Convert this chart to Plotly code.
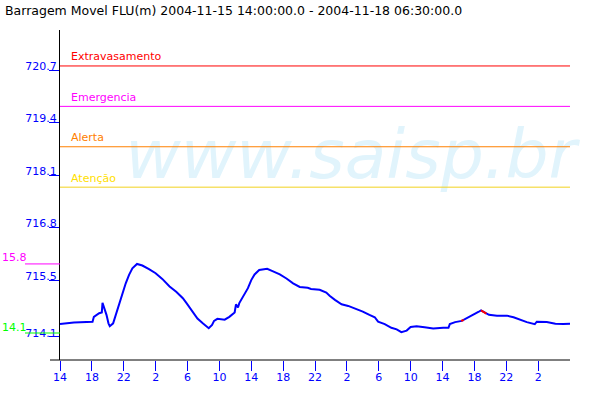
import plotly.graph_objects as go

# ---- data ----
times = [
    "2004-11-15 14:00", "2004-11-15 15:45", "2004-11-15 18:05", "2004-11-15 18:15",
    "2004-11-15 18:55", "2004-11-15 19:15", "2004-11-15 19:20", "2004-11-15 19:30",
    "2004-11-15 19:50", "2004-11-15 20:05", "2004-11-15 20:15", "2004-11-15 20:40",
    "2004-11-15 21:00", "2004-11-15 21:25", "2004-11-15 21:50", "2004-11-15 22:15",
    "2004-11-15 22:40", "2004-11-15 23:05", "2004-11-15 23:40", "2004-11-16 00:20",
    "2004-11-16 01:10", "2004-11-16 02:00", "2004-11-16 02:50", "2004-11-16 03:45",
    "2004-11-16 04:35", "2004-11-16 05:25", "2004-11-16 05:50", "2004-11-16 06:40",
    "2004-11-16 07:15", "2004-11-16 07:55", "2004-11-16 08:40", "2004-11-16 09:05",
    "2004-11-16 09:20", "2004-11-16 09:45", "2004-11-16 10:40", "2004-11-16 11:15",
    "2004-11-16 11:55", "2004-11-16 12:05", "2004-11-16 12:20", "2004-11-16 12:30",
    "2004-11-16 12:55", "2004-11-16 13:35", "2004-11-16 14:00", "2004-11-16 14:25",
    "2004-11-16 15:00", "2004-11-16 15:40", "2004-11-16 16:00", "2004-11-16 16:40",
    "2004-11-16 17:35", "2004-11-16 18:25", "2004-11-16 19:15", "2004-11-16 20:05",
    "2004-11-16 21:05", "2004-11-16 21:30", "2004-11-16 22:35", "2004-11-16 23:25",
    "2004-11-16 23:50", "2004-11-17 00:30", "2004-11-17 01:20", "2004-11-17 02:10",
    "2004-11-17 03:00", "2004-11-17 04:00", "2004-11-17 04:50", "2004-11-17 05:30",
    "2004-11-17 05:55", "2004-11-17 06:45", "2004-11-17 07:35", "2004-11-17 08:15",
    "2004-11-17 08:50", "2004-11-17 09:30", "2004-11-17 10:00", "2004-11-17 10:45",
    "2004-11-17 11:45", "2004-11-17 12:50", "2004-11-17 14:05", "2004-11-17 14:45",
    "2004-11-17 14:55", "2004-11-17 15:35", "2004-11-17 16:25", "2004-11-17 17:15",
    "2004-11-17 17:50", "2004-11-17 18:30", "2004-11-17 18:50", "2004-11-17 19:20",
    "2004-11-17 19:50", "2004-11-17 20:50", "2004-11-17 22:05", "2004-11-17 22:55",
    "2004-11-17 23:45", "2004-11-18 00:35", "2004-11-18 01:35", "2004-11-18 01:50",
    "2004-11-18 03:05", "2004-11-18 04:10", "2004-11-18 05:10", "2004-11-18 06:00",
]
levels = [
    714.41, 714.45, 714.47, 714.59, 714.68, 714.70, 714.94, 714.84,
    714.64, 714.43, 714.36, 714.43, 714.64, 714.88, 715.17, 715.42,
    715.63, 715.79, 715.90, 715.86, 715.77, 715.67, 715.53, 715.34,
    715.21, 715.05, 714.94, 714.72, 714.55, 714.43, 714.31, 714.39,
    714.49, 714.54, 714.52, 714.59, 714.70, 714.90, 714.82, 714.93,
    715.06, 715.30, 715.50, 715.64, 715.75, 715.78, 715.78, 715.72,
    715.64, 715.54, 715.42, 715.33, 715.31, 715.28, 715.26, 715.19,
    715.11, 715.01, 714.90, 714.86, 714.80, 714.72, 714.64, 714.58,
    714.47, 714.41, 714.32, 714.28, 714.21, 714.25, 714.34, 714.36,
    714.33, 714.30, 714.32, 714.32, 714.41, 714.46, 714.49, 714.57,
    714.64, 714.71, 714.75, 714.69, 714.64, 714.62, 714.62, 714.58,
    714.51, 714.46, 714.41, 714.47, 714.46, 714.42, 714.41, 714.42,
]
# short stretches drawn in red
red_times = ["2004-11-17 16:20", "2004-11-17 16:40", None, "2004-11-17 18:50", "2004-11-17 19:30"]
red_levels = [714.49, 714.51, None, 714.75, 714.67]

threshold_names = ["Extravasamento", "Emergencia", "Alerta", "Atenção"]
threshold_values = [720.8, 719.8, 718.8, 717.8]
threshold_colors = ["#FF0000", "#FF00FF", "#FF8000", "#F2D21E"]
threshold_text_colors = ["#FF0000", "#FF00FF", "#FF8000", "#FFE000"]

max_label, max_value = "15.8", 715.9
min_label, min_value = "14.1", 714.19

ytick_values = [714.1, 715.5, 716.8, 718.1, 719.4, 720.7]
ytick_labels = ["714.1", "715.5", "716.8", "718.1", "719.4", "720.7"]

xtick_values = [
    "2004-11-15 14:00", "2004-11-15 18:00", "2004-11-15 22:00", "2004-11-16 02:00",
    "2004-11-16 06:00", "2004-11-16 10:00", "2004-11-16 14:00", "2004-11-16 18:00",
    "2004-11-16 22:00", "2004-11-17 02:00", "2004-11-17 06:00", "2004-11-17 10:00",
    "2004-11-17 14:00", "2004-11-17 18:00", "2004-11-17 22:00", "2004-11-18 02:00",
]
xtick_labels = ["14", "18", "22", "2", "6", "10", "14", "18", "22", "2", "6", "10", "14", "18", "22", "2"]

x_start, x_end = "2004-11-15 14:00", "2004-11-18 06:00"
title_text = "Barragem Movel FLU(m) 2004-11-15 14:00:00.0 - 2004-11-18 06:30:00.0"
watermark = "www.saisp.br"

FONT = "DejaVu Sans"
BLUE = "#0000FF"

fig = go.Figure()

# watermark behind everything
fig.add_trace(go.Scatter(
    x=["2004-11-17 02:30"], y=[718.45], mode="text", text=[watermark],
    textposition="middle center", cliponaxis=False,
    textfont=dict(family=FONT, size=68, color="#E1F4FC", style="italic"),
    hoverinfo="skip", showlegend=False,
))

for name, val, col in zip(threshold_names, threshold_values, threshold_colors):
    fig.add_trace(go.Scatter(
        x=[x_start, x_end], y=[val, val], mode="lines",
        line=dict(color=col, width=1), hoverinfo="skip", showlegend=False,
    ))

fig.add_trace(go.Scatter(
    x=times, y=levels, mode="lines", line=dict(color=BLUE, width=2),
    showlegend=False,
))
fig.add_trace(go.Scatter(
    x=red_times, y=red_levels, mode="lines", line=dict(color="#FF0000", width=2),
    connectgaps=False, showlegend=False,
))

annotations = []
for name, val, col in zip(threshold_names, threshold_values, threshold_text_colors):
    annotations.append(dict(
        x=0, xref="paper", y=val, yref="y", text=name, showarrow=False,
        xanchor="left", yanchor="middle", xshift=9, yshift=9,
        font=dict(family=FONT, size=11, color=col),
    ))
annotations.append(dict(
    x=-60 / 510, xref="paper", y=max_value, yref="y", text=max_label, showarrow=False,
    xanchor="left", yanchor="middle", yshift=6,
    font=dict(family=FONT, size=11, color="#FF00FF"),
))
annotations.append(dict(
    x=-60 / 510, xref="paper", y=min_value, yref="y", text=min_label, showarrow=False,
    xanchor="left", yanchor="middle", yshift=6,
    font=dict(family=FONT, size=11, color="#00FF00"),
))

shapes = [
    dict(type="line", xref="paper", yref="paper", x0=-10 / 510, x1=1, y0=0, y1=0,
         line=dict(color="black", width=1)),
    dict(type="line", xref="paper", yref="y", x0=-35 / 510, x1=0, y0=max_value, y1=max_value,
         line=dict(color="#FF00FF", width=1)),
    dict(type="line", xref="paper", yref="y", x0=-35 / 510, x1=0, y0=min_value, y1=min_value,
         line=dict(color="#00FF00", width=1)),
]

fig.update_layout(
    width=600, height=400,
    margin=dict(l=60, r=30, t=30, b=40),
    paper_bgcolor="white", plot_bgcolor="white",
    showlegend=False,
    title=dict(text=title_text, x=5 / 600, xanchor="left", y=1 - 11 / 400, yanchor="middle",
               font=dict(family=FONT, size=12.5, color="black")),
    xaxis=dict(
        type="date", range=[x_start, x_end], showgrid=False, zeroline=False, showline=False,
        tickmode="array", tickvals=xtick_values, ticktext=xtick_labels,
        ticks="outside", ticklen=10, tickcolor=BLUE, tickwidth=1,
        tickfont=dict(family=FONT, size=11, color=BLUE),
        ticklabelstandoff=-3,
    ),
    yaxis=dict(
        range=[713.522, 721.69], showgrid=False, zeroline=False,
        showline=True, linecolor="black", linewidth=1,
        tickmode="array", tickvals=ytick_values, ticktext=ytick_labels,
        ticks="outside", ticklen=10, tickcolor=BLUE, tickwidth=1,
        tickfont=dict(family=FONT, size=11, color=BLUE),
        ticklabelstandoff=-10, ticklabelshift=-4,
    ),
    annotations=annotations,
    shapes=shapes,
)

fig.write_html("out.html", config={"displayModeBar": False},
               post_script="document.body.style.margin='0';")
